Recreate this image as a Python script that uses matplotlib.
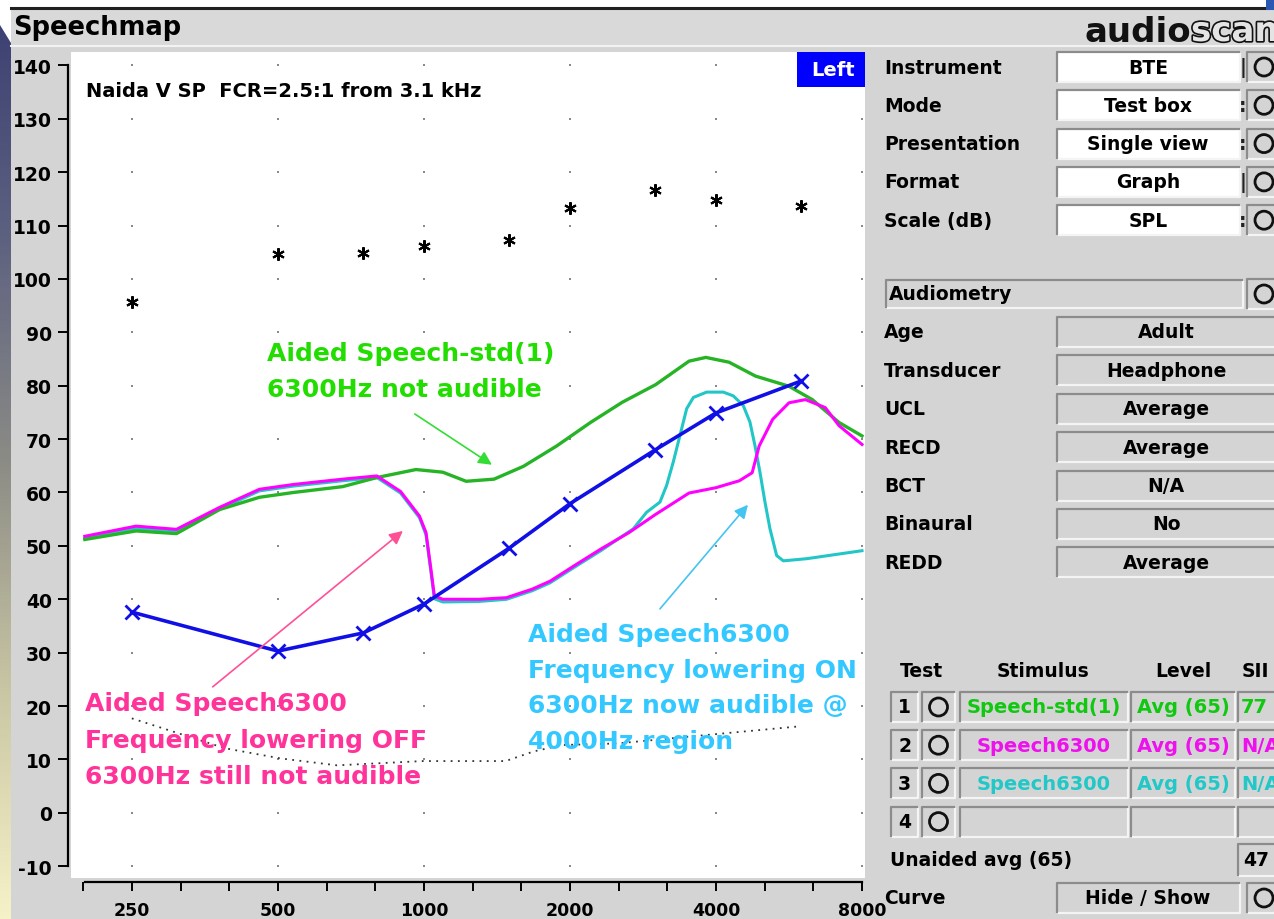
import numpy as np
import matplotlib
matplotlib.use("Agg")
import matplotlib.pyplot as plt
from matplotlib.patches import Rectangle, Circle, Polygon
from matplotlib.colors import LinearSegmentedColormap
from matplotlib.ticker import NullFormatter, FixedLocator
import matplotlib.patheffects as pe

plt.rcParams['font.family'] = ['DejaVu Sans']
plt.rcParams['font.weight'] = 'bold'
plt.rcParams['axes.unicode_minus'] = False

# ---------------- data ----------------
octave_freqs = [250, 500, 1000, 2000, 4000, 8000]
octave_labels = ["250", "500", "1000", "2000", "4000", "8000"]
db_ticks = list(range(-10, 141, 10))

# audiometric frequencies
audio_freq = [250, 500, 750, 1000, 1500, 2000, 3000, 4000, 6000]
# hearing thresholds (dB SPL)
threshold_db = [37.6, 30.3, 33.7, 39.1, 49.6, 57.9, 68.0, 74.9, 80.9]
# uncomfortable loudness levels (dB SPL)
ucl_db = [95.7, 104.7, 104.9, 106.2, 107.3, 113.3, 116.7, 114.8, 113.7]

# normal hearing reference (dotted)
normal_freq = [250, 389, 506, 662, 994, 1474, 1683, 1924, 2505, 3739, 5938]
normal_db = [17.7, 12.1, 10.2, 8.9, 9.7, 9.7, 11.5, 12.7, 13.0, 14.5, 16.2]

# Test 1: Speech-std(1)
std_freq = [200, 255, 309, 379, 458, 538, 680, 800, 963, 1094, 1222, 1395, 1604,
            1877, 2204, 2564, 3004, 3520, 3813, 4257, 4826, 5657, 6318, 7176, 8000]
std_db = [51.2, 52.8, 52.3, 56.8, 59.1, 60.0, 61.1, 62.8, 64.3, 63.8, 62.1, 62.5, 64.9,
          68.7, 73.1, 76.9, 80.2, 84.6, 85.3, 84.4, 81.8, 79.9, 77.4, 73.1, 70.6]

# Test 2: Speech6300, frequency lowering OFF
off_freq = [200, 255, 309, 379, 458, 538, 680, 800, 895, 979, 1010, 1034, 1051, 1094,
            1300, 1480, 1672, 1821, 2034, 2315, 2648, 3004, 3520, 4000, 4470, 4750,
            4910, 5235, 5657, 6115, 6720, 7176, 8000]
off_db = [51.8, 53.7, 53.1, 57.2, 60.6, 61.5, 62.5, 63.1, 60.2, 55.6, 52.5, 45.6, 40.6, 40.0,
          40.0, 40.3, 41.9, 43.4, 46.2, 49.4, 52.5, 55.9, 59.9, 60.9, 62.2, 63.7,
          68.7, 73.7, 76.8, 77.4, 75.9, 72.5, 69.0]

# Test 3: Speech6300, frequency lowering ON
on_freq = [200, 255, 309, 379, 458, 538, 680, 800, 895, 979, 1010, 1034, 1051, 1094,
           1300, 1480, 1672, 1821, 2034, 2315, 2702, 2878, 3066, 3164, 3266, 3372, 3481,
           3593, 3827, 4142, 4342, 4552, 4700, 4813, 4929, 5048, 5169, 5335, 5507, 6151, 8000]
on_db = [51.5, 53.3, 52.8, 56.9, 60.3, 61.2, 62.2, 62.8, 59.9, 55.3, 52.1, 45.1, 40.1, 39.5,
         39.6, 40.0, 41.6, 43.1, 45.9, 49.1, 53.2, 56.3, 58.2, 61.3, 65.7, 70.7, 75.7,
         77.8, 78.8, 78.8, 78.1, 76.3, 73.2, 68.8, 63.8, 58.2, 53.2, 48.2, 47.2, 47.6, 49.1]

settings_labels = ["Instrument", "Mode", "Presentation", "Format", "Scale (dB)"]
settings_values = ["BTE", "Test box", "Single view", "Graph", "SPL"]
settings_marks = ["|", ":", ":", "|", ":"]
audiometry_labels = ["Age", "Transducer", "UCL", "RECD", "BCT", "Binaural", "REDD"]
audiometry_values = ["Adult", "Headphone", "Average", "Average", "N/A", "No", "Average"]
test_stimulus = ["Speech-std(1)", "Speech6300", "Speech6300", ""]
test_level = ["Avg (65)", "Avg (65)", "Avg (65)", ""]
test_sii = ["77", "N/A", "N/A", ""]
unaided_sii = "47"

C_STD = "#26b426"
C_OFF = "#ff00ff"
C_ON = "#22c6c6"
C_THR = "#1010e6"
TXT_STD = "#22dd00"
TXT_OFF = "#ff3399"
TXT_ON = "#33c8ff"
TABLE_COLORS = ["#11c811", "#ee11ee", "#22c8c8", "black"]
PANEL = "#d4d4d4"

W, H = 1274, 920
fig = plt.figure(figsize=(W / 100, H / 100), dpi=100)
fig.patch.set_facecolor("white")

# ---------------- background (pixel coordinates) ----------------
bg = fig.add_axes([0, 0, 1, 1], zorder=0)
bg.set_xlim(0, W)
bg.set_ylim(H, 0)
bg.axis("off")

grad_cmap = LinearSegmentedColormap.from_list(
    "slide", ["#3a3f72", "#5d6180", "#8c8c86", "#c9c6a4", "#f6f2c8"])
bg.imshow(np.linspace(0, 1, 256).reshape(-1, 1), cmap=grad_cmap, aspect="auto",
          extent=(0, 11, H, 9), origin="upper", zorder=0)
bg.add_patch(Polygon([(0, 0), (11, 0), (11, 44), (0, 26)], closed=True,
                     facecolor="white", edgecolor="none", zorder=1))
bg.add_patch(Rectangle((11, 9), W - 11, H - 9, facecolor=PANEL, edgecolor="none", zorder=1))
bg.add_patch(Rectangle((11, 9), W - 11, 37, facecolor="#d9d9d9", edgecolor="none", zorder=1))
bg.plot([11, W], [46.5, 46.5], color="#f2f2f2", lw=1.5, zorder=2)
bg.plot([11, W], [9, 9], color="#202020", lw=2.2, zorder=2)
bg.add_patch(Rectangle((1266, 0), 8, 11, facecolor="#2b58b0", edgecolor="none", zorder=3))

# ---------------- main chart ----------------
x_left_px, x_right_px, y_top_px, y_bot_px = 71, 865, 53, 879
ax = fig.add_axes([x_left_px / W, 1 - y_bot_px / H,
                   (x_right_px - x_left_px) / W, (y_bot_px - y_top_px) / H], zorder=1)
ax.set_facecolor("white")
ax.set_xscale("log", base=2)
ax.set_xlim(187.3, 8115)
ax.set_ylim(-12.2, 142.5)

for s in ["top", "right"]:
    ax.spines[s].set_visible(False)
ax.spines["left"].set_position(("outward", 2.2))
ax.spines["left"].set_bounds(-10, 140)
ax.spines["left"].set_linewidth(1.6)
ax.spines["bottom"].set_position(("outward", 2.9))
ax.spines["bottom"].set_bounds(200, 8000)
ax.spines["bottom"].set_linewidth(1.6)

third_octaves = [250 * 2 ** (k / 3) for k in range(-1, 16)]
ax.xaxis.set_major_locator(FixedLocator(octave_freqs))
ax.xaxis.set_minor_locator(FixedLocator([f for f in third_octaves
                                         if min(abs(np.log2(f / o)) for o in octave_freqs) > 0.01]))
ax.set_xticklabels(octave_labels)
ax.xaxis.set_minor_formatter(NullFormatter())
ax.tick_params(axis="x", which="both", direction="out", length=6.5, width=1.4,
               pad=7, labelsize=12.5)
ax.set_yticks(db_ticks)
ax.set_yticklabels([str(v) for v in db_ticks])
ax.tick_params(axis="y", direction="out", length=7.2, width=1.4, pad=4.5, labelsize=13.5)
for lab in ax.get_xticklabels() + ax.get_yticklabels():
    lab.set_fontweight("bold")

# grid of dots
gx, gy = np.meshgrid(octave_freqs, db_ticks)
ax.scatter(gx.ravel(), gy.ravel(), s=2.5, marker="s", color="#8a8a8a", lw=0, zorder=1,
           clip_on=False)

ax.plot(normal_freq, normal_db, color="#333333", lw=1.3, linestyle=(0, (1, 3)), zorder=2)
ax.plot(audio_freq, ucl_db, linestyle="none", marker=(6, 2, 0), markersize=9,
        markeredgewidth=1.5, color="black", zorder=3)
ax.plot(on_freq, on_db, color=C_ON, lw=2.2, zorder=3)
ax.plot(std_freq, std_db, color=C_STD, lw=2.4, zorder=4)
ax.plot(off_freq, off_db, color=C_OFF, lw=2.2, zorder=5)
ax.plot(audio_freq, threshold_db, color=C_THR, lw=2.6, marker="x", markersize=10,
        markeredgewidth=2, zorder=6)

ax.text(201, 135.2, "Naida V SP  FCR=2.5:1 from 3.1 kHz", fontsize=14, fontweight="bold",
        color="black", ha="left", va="center")

# annotations
for i, line in enumerate(["Aided Speech-std(1)", "6300Hz not audible"]):
    ax.text(475, [86.1, 79.4][i], line, color=TXT_STD, fontsize=18, fontweight="bold",
            ha="left", va="center", zorder=7)
ax.annotate("", xy=(1381, 65.2), xytext=(958, 74.7),
            arrowprops=dict(arrowstyle="-|>", color="#33dd33", lw=1.2, mutation_scale=20,
                            shrinkA=0, shrinkB=0), zorder=7)

for i, line in enumerate(["Aided Speech6300", "Frequency lowering OFF",
                          "6300Hz still not audible"]):
    ax.text(200, [20.6, 13.7, 6.9][i], line, color=TXT_OFF, fontsize=18, fontweight="bold",
            ha="left", va="center", zorder=7)
ax.annotate("", xy=(905, 52.8), xytext=(367, 23.6),
            arrowprops=dict(arrowstyle="-|>", color="#ff5096", lw=1.2, mutation_scale=20,
                            shrinkA=0, shrinkB=0), zorder=7)

for i, line in enumerate(["Aided Speech6300", "Frequency lowering ON",
                          "6300Hz now audible @", "4000Hz region"]):
    ax.text(1638, [33.5, 26.8, 20.2, 13.5][i], line, color=TXT_ON, fontsize=18,
            fontweight="bold", ha="left", va="center", zorder=7)
ax.annotate("", xy=(4656, 57.7), xytext=(3066, 38.2),
            arrowprops=dict(arrowstyle="-|>", color="#44c4f0", lw=1.2, mutation_scale=20,
                            shrinkA=0, shrinkB=0), zorder=7)

# ---------------- UI overlay (pixel coordinates) ----------------
ui = fig.add_axes([0, 0, 1, 1], zorder=2)
ui.set_xlim(0, W)
ui.set_ylim(H, 0)
ui.axis("off")
ui.patch.set_alpha(0)

FS = 13.5


def box(x0, x1, yc, h, face):
    y0, y1 = yc - h / 2, yc + h / 2
    ui.add_patch(Rectangle((x0, y0), x1 - x0, h, facecolor=face, edgecolor="none"))
    ui.plot([x0, x0, x1], [y1, y0, y0], color="#8c8c8c", lw=1.6, solid_capstyle="butt")
    ui.plot([x0 + 1, x1, x1], [y1, y1, y0 + 1], color="#f4f4f4", lw=1.6, solid_capstyle="butt")


def ring_button(x0, x1, yc, h=30):
    box(x0, x1, yc, h, PANEL)
    ui.add_patch(Circle(((x0 + x1) / 2 if x1 < W else x0 + 17, yc), 9, fill=False,
                        lw=2, edgecolor="#111111"))


# title and logo
ui.text(13, 28, "Speechmap", fontsize=18.5, fontweight="bold", ha="left", va="center")
ui.text(1084, 42, "audio", fontsize=24.5, fontweight="bold", ha="left", va="baseline",
        color="#111111")
ui.text(1191, 42, "scan", fontsize=24.5, fontweight="bold", ha="left", va="baseline",
        color="#e4e4e4", clip_on=True,
        path_effects=[pe.withStroke(linewidth=2.4, foreground="#111111")])

# ear side badge
ui.add_patch(Rectangle((797, 53), 68, 35, facecolor="#0000ff", edgecolor="none"))
ui.text(833, 71, "Left", color="white", fontsize=14, fontweight="bold", ha="center",
        va="center")

# settings
for i, (lab, val, mark) in enumerate(zip(settings_labels, settings_values, settings_marks)):
    yc = 68 + i * 38.3
    ui.text(884, yc, lab, fontsize=FS, fontweight="bold", ha="left", va="center")
    box(1057, 1240, yc, 30, "white")
    ui.text(1148, yc, val, fontsize=FS, fontweight="bold", ha="center", va="center")
    ui.text(1243, yc, mark, fontsize=FS, fontweight="bold", ha="center", va="center",
            color="#222222")
    ring_button(1247, 1290, yc)

box(886, 1243, 295, 28, PANEL)
ui.text(889, 295, "Audiometry", fontsize=FS, fontweight="bold", ha="left", va="center")
ring_button(1247, 1290, 295)

for i, (lab, val) in enumerate(zip(audiometry_labels, audiometry_values)):
    yc = 333 + i * 38.4
    ui.text(884, yc, lab, fontsize=FS, fontweight="bold", ha="left", va="center")
    box(1057, 1290, yc, 30, PANEL)
    ui.text(1166, yc, val, fontsize=FS, fontweight="bold", ha="center", va="center")

# test table
ui.text(921, 672, "Test", fontsize=FS, fontweight="bold", ha="center", va="center")
ui.text(1043, 672, "Stimulus", fontsize=FS, fontweight="bold", ha="center", va="center")
ui.text(1183, 672, "Level", fontsize=FS, fontweight="bold", ha="center", va="center")
ui.text(1242, 672, "SII", fontsize=FS, fontweight="bold", ha="left", va="center")
for i in range(4):
    yc = 708 + i * 38.2
    col = TABLE_COLORS[i]
    box(891, 918, yc, 30, PANEL)
    ui.text(904.5, yc, str(i + 1), fontsize=FS, fontweight="bold", ha="center", va="center")
    box(922, 955, yc, 30, PANEL)
    ui.add_patch(Circle((938.5, yc), 9, fill=False, lw=2, edgecolor="#111111"))
    box(960, 1128, yc, 30, PANEL)
    ui.text(1044, yc, test_stimulus[i], fontsize=14, fontweight="bold", ha="center",
            va="center", color=col)
    box(1131, 1235, yc, 30, PANEL)
    ui.text(1183, yc, test_level[i], fontsize=14, fontweight="bold", ha="center",
            va="center", color=col)
    box(1238, 1290, yc, 30, PANEL)
    ui.text(1241, yc, test_sii[i], fontsize=14, fontweight="bold", ha="left",
            va="center", color=col)

ui.text(890, 861, "Unaided avg (65)", fontsize=FS, fontweight="bold", ha="left", va="center")
box(1238, 1290, 861, 32, PANEL)
ui.text(1243, 861, unaided_sii, fontsize=FS, fontweight="bold", ha="left", va="center")

ui.text(884, 899, "Curve", fontsize=FS, fontweight="bold", ha="left", va="center")
box(1057, 1240, 899, 30, PANEL)
ui.text(1148, 899, "Hide / Show", fontsize=FS, fontweight="bold", ha="center", va="center")
ring_button(1247, 1290, 899)

fig.savefig("out.png", dpi=100)
